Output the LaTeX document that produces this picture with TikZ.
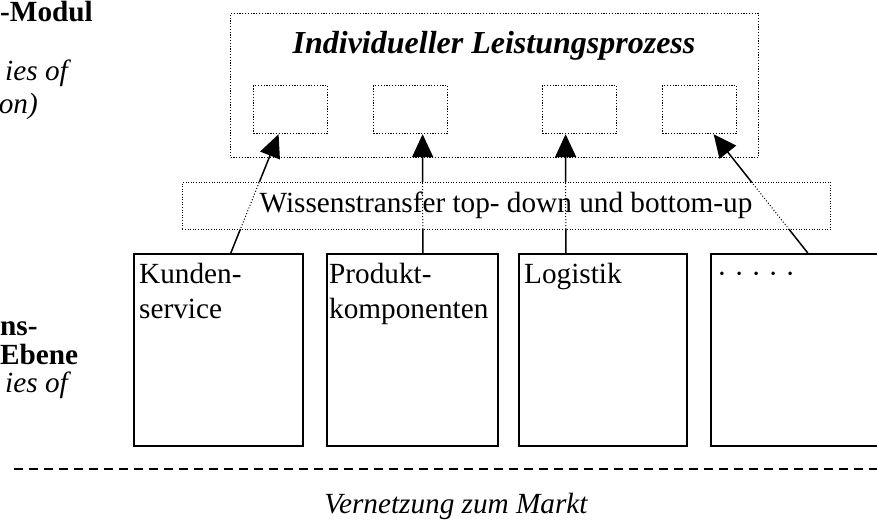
\documentclass[tikz,border=0pt]{standalone}
\usepackage{fontspec}
\setmainfont{Liberation Serif}
\usetikzlibrary{positioning}
\usetikzlibrary{arrows.meta}

\newcommand{\grund}{\fontsize{29.25}{35}\selectfont}

\tikzset{
	punktbox/.style={draw, line width=1.2pt, dash pattern=on 1.2pt off 1.6pt, inner sep=0pt, anchor=north west},
	transferbox/.style={draw, fill=white, line width=0.8pt, dash pattern=on 0.8pt off 1.8pt, inner sep=0pt, anchor=north west},
	bereich/.style={draw, line width=1.6pt, inner sep=0pt, anchor=north west, minimum height=192pt},
	bereichtext/.style={font=\grund, align=left, inner sep=0pt, anchor=north west},
	pfeil/.style={line width=1.5pt, -{Triangle[length=23pt, width=21pt]}},
	durchpfeil/.style={line width=1pt, dash pattern=on 1pt off 2pt},
	fett/.style={font=\grund\bfseries, inner sep=0pt},
	kursiv/.style={font=\grund\itshape, inner sep=0pt}
}

\begin{document}
\begin{tikzpicture}[x=1pt, y=-1pt]
	\useasboundingbox (0,0) rectangle (877,527);
	\clip (0,0) rectangle (877,527);

	% linke Spalte
	\node[fett, anchor=base west] (modul) at (0,22) {-Modul};
	\node[kursiv, anchor=base east] (oben1) at (68,80) {ies of};
	\node[kursiv, anchor=base east] (oben2) at (38,113) {on)};
	\node[fett, anchor=base west] (ebene1) at (0,335) {ns-};
	\node[fett, anchor=base west] (ebene2) at (0,364) {Ebene};
	\node[kursiv, anchor=base east] (ebene3) at (68,392) {ies of};

	% Leistungsprozess
	\node[punktbox, minimum width=528pt, minimum height=144pt] (prozess) at (230,13) {};
	\node[font=\fontsize{32}{38}\selectfont\bfseries\itshape, inner sep=0pt, anchor=base] (titel) at (494,53) {Individueller Leistungsprozess};
	\node[punktbox, minimum width=74pt, minimum height=48pt] (p1) at (253,85) {};
	\node[punktbox, minimum width=74pt, minimum height=48pt] (p2) at (373,85) {};
	\node[punktbox, minimum width=74pt, minimum height=48pt] (p3) at (542,85) {};
	\node[punktbox, minimum width=74pt, minimum height=48pt] (p4) at (662,85) {};

	% Bereiche
	\node[bereich, minimum width=169pt] (kunden) at (133,253) {};
	\node[bereich, minimum width=171pt] (produkt) at (326,253) {};
	\node[bereich, minimum width=168pt] (logistik) at (518,253) {};
	\node[bereich, minimum width=170pt] (weitere) at (710,253) {};
	\node[bereichtext, below right=5.5pt and 6pt of kunden.north west] (kundentext) {\strut Kunden-\\service};
	\node[bereichtext, below right=5.5pt and 3pt of produkt.north west] (produkttext) {\strut Produkt-\\komponenten};
	\node[bereichtext, below right=5.5pt and 6pt of logistik.north west] (logistiktext) {\strut Logistik};
	\node[bereichtext, below right=5.5pt and 7pt of weitere.north west] (weiteretext) {\strut · · · · ·};

	% Pfeile
	\def\pfeilliste{kunden/12.5/p1/-12, produkt/10.5/p2/12, logistik/-37/p3/-14, weitere/12/p4/14}
	\foreach \von/\vs/\nach/\ns in \pfeilliste {
		\draw[pfeil] ([xshift=\vs pt]\von.north) -- ([xshift=\ns pt]\nach.south);
	}

	% Wissenstransfer
	\node[transferbox, minimum width=648pt, minimum height=47pt] (transfer) at (182,182) {};
	\begin{scope}
		\clip (transfer.north west) rectangle (transfer.south east);
		\foreach \von/\vs/\nach/\ns in \pfeilliste {
			\draw[durchpfeil] ([xshift=\vs pt]\von.north) -- ([xshift=\ns pt]\nach.south);
		}
	\end{scope}
	\node[font=\grund, inner sep=0pt, anchor=base] (wissen) at (506,212) {Wissenstransfer top- down und bottom-up};

	% Markt
	\draw[line width=1.6pt, dash pattern=on 9pt off 6pt] (14,469) -- (880,469);
	\node[kursiv, anchor=base] (markt) at (456,513) {Vernetzung zum Markt};
\end{tikzpicture}
\end{document}
